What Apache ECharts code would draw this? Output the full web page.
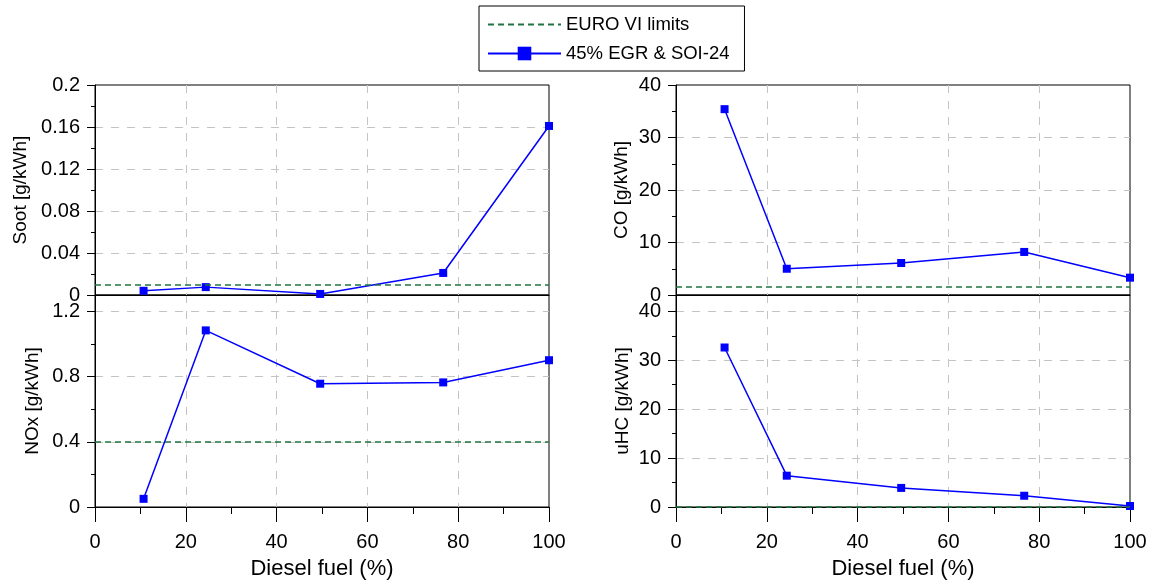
<!DOCTYPE html>
<html>
<head>
<meta charset="utf-8">
<script src="https://cdn.jsdelivr.net/npm/echarts@6/dist/echarts.min.js"></script>
<style>
  html, body { margin: 0; padding: 0; background: #fff; }
  #chart { width: 1151px; height: 581px; }
</style>
</head>
<body>
<div id="chart"></div>
<script>
// Share of diesel fuel in the blend (%)
const dieselFuel = [10.7, 24.4, 49.6, 76.7, 100];

// Emissions at 45% EGR & SOI-24
const soot = [0.004, 0.0075, 0.001, 0.021, 0.161];
const nox  = [0.05, 1.083, 0.756, 0.764, 0.9];
const co   = [35.4, 5.0, 6.1, 8.2, 3.3];
const uhc  = [32.6, 6.4, 3.9, 2.3, 0.2];

// EURO VI limits, same order as the panels (soot, NOx, CO, uHC)
const euroLimits = [0.01, 0.4, 1.5, 0.13];

// Axis names and scales, panel order: top-left, bottom-left, top-right, bottom-right
const yNames = ['Soot [g/kWh]', 'NOx [g/kWh]', 'CO [g/kWh]', 'uHC [g/kWh]'];
const yMax = [0.2, 1.3, 40, 43.33];
const yStep = [0.04, 0.4, 10, 10];
const xRange = [0, 100];
const xStep = 20;
const xName = 'Diesel fuel (%)';

const seriesName = '45% EGR & SOI-24';
const limitName = 'EURO VI limits';

const FONT = 'Liberation Sans, Arial, Helvetica, sans-serif';
const BLUE = '#0000ff';
const GREEN = '#1f7541';
const GRID_GRAY = '#c4c4c4';

const panelValues = [soot, nox, co, uhc];
const grids = [
  { left: 95,  top: 85,  width: 454, height: 210 },
  { left: 95,  top: 295, width: 454, height: 212 },
  { left: 676, top: 85,  width: 454, height: 210 },
  { left: 676, top: 295, width: 454, height: 212 }
];
const isBottom = [false, true, false, true];
const nameGaps = [65, 53, 45, 44];

const xAxes = grids.map((g, i) => ({
  gridIndex: i,
  type: 'value',
  min: xRange[0],
  max: xRange[1],
  interval: xStep,
  axisLine: { show: true, onZero: false, lineStyle: { color: '#000', width: 1 } },
  axisTick: { show: isBottom[i], length: 15, lineStyle: { color: '#000', width: 1 } },
  minorTick: { show: isBottom[i], splitNumber: 2, length: 7, lineStyle: { color: '#000', width: 1 } },
  axisLabel: { show: isBottom[i], fontSize: 20, color: '#000', fontFamily: FONT, margin: 25 },
  splitLine: {
    show: true, showMinLine: false, showMaxLine: false,
    lineStyle: { color: GRID_GRAY, type: [8, 8], width: 1 }
  },
  name: isBottom[i] ? xName : '',
  nameLocation: 'middle',
  nameGap: 51,
  nameTextStyle: { fontSize: 22, color: '#000', fontFamily: FONT }
}));

const yAxes = grids.map((g, i) => ({
  gridIndex: i,
  type: 'value',
  min: 0,
  max: yMax[i],
  interval: yStep[i],
  axisLine: { show: true, lineStyle: { color: '#000', width: 1 } },
  axisTick: { show: true, length: 8, lineStyle: { color: '#000', width: 1 } },
  minorTick: { show: true, splitNumber: 2, length: 4, lineStyle: { color: '#000', width: 1 } },
  axisLabel: {
    fontSize: 20, color: '#000', fontFamily: FONT, margin: 15,
    showMaxLabel: !isBottom[i]
  },
  splitLine: {
    show: true, showMinLine: false, showMaxLine: false,
    lineStyle: { color: GRID_GRAY, type: [8, 8], width: 1 }
  },
  name: yNames[i],
  nameLocation: 'middle',
  nameGap: nameGaps[i],
  nameTextStyle: { fontSize: 19, color: '#000', fontFamily: FONT }
}));

const series = [];
panelValues.forEach((vals, i) => {
  series.push({
    name: limitName,
    type: 'line',
    xAxisIndex: i,
    yAxisIndex: i,
    data: [],
    symbol: 'none',
    itemStyle: { color: 'rgba(0,0,0,0)' },
    lineStyle: { color: GREEN, type: [6, 4], width: 1.5 },
    markLine: {
      silent: true,
      symbol: ['none', 'none'],
      label: { show: false },
      lineStyle: { color: GREEN, type: [6, 4], width: 1.5 },
      data: [{ yAxis: euroLimits[i] }]
    },
    z: 3
  });
  series.push({
    name: seriesName,
    type: 'line',
    xAxisIndex: i,
    yAxisIndex: i,
    data: dieselFuel.map((x, k) => [x, vals[k]]),
    symbol: 'rect',
    symbolSize: 8,
    itemStyle: { color: BLUE },
    lineStyle: { color: BLUE, width: 1.5 },
    clip: false,
    z: 4
  });
});

const chart = echarts.init(document.getElementById('chart'), null, { renderer: 'canvas' });
chart.setOption({
  animation: false,
  backgroundColor: '#fff',
  textStyle: { fontFamily: FONT },
  grid: grids.map(g => Object.assign({
    show: true, borderColor: '#000', borderWidth: 1, backgroundColor: 'transparent'
  }, g)),
  legend: {
    orient: 'vertical',
    left: 479,
    top: 6,
    itemWidth: 73,
    itemHeight: 17,
    itemGap: 10,
    padding: [9, 15, 8, 8],
    borderColor: '#000',
    borderWidth: 1,
    textStyle: { fontSize: 18.5, color: '#000', fontFamily: FONT },
    data: [limitName, seriesName]
  },
  xAxis: xAxes,
  yAxis: yAxes,
  series: series
});
</script>
</body>
</html>
